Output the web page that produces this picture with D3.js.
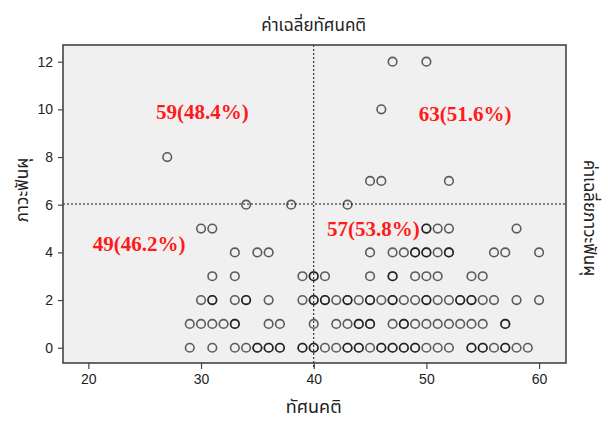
<!DOCTYPE html>
<html>
<head>
<meta charset="utf-8">
<script src="https://cdn.jsdelivr.net/npm/d3@7"></script>
<style>
  html, body { margin: 0; padding: 0; background: #fff; }
  svg { display: block; }
  .thai { font-family: "Noto Sans Thai", "Noto Sans", "DejaVu Sans", sans-serif; fill: #222; }
  .tick text { font-family: "Liberation Sans", Arial, sans-serif; font-size: 14px; fill: #222; }
  .tick line { stroke: #444; stroke-width: 1.2; }
</style>
</head>
<body>
<svg id="chart" width="608" height="421"></svg>
<script>
// Attitude score (x) and dental caries count (y) per respondent, one row per caries level
const row0 = [29,31,33,34,35,35,36,36,37,37,39,39,40,40,41,42,43,43,44,44,45,46,46,47,47,48,48,49,49,50,51,52,54,54,55,55,56,57,57,58,59];
const row1 = [29,30,31,32,33,33,36,37,40,42,43,44,44,45,45,47,48,48,49,50,51,52,53,54,55,57,57];
const row2 = [30,31,31,33,34,34,36,39,40,40,41,41,42,43,43,44,45,45,46,47,47,48,49,50,50,51,52,53,53,54,54,55,56,58,60];
const row3 = [31,33,39,40,40,41,45,47,47,49,50,51,54,55];
const row4 = [33,35,36,45,47,48,49,49,50,50,51,52,52,56,57,60];
const row5 = [30,31,50,50,51,52,58];
const row6 = [34,38,43];
const row7 = [45,46,52];
const row8 = [27];
const row10 = [46];
const row12 = [47,50];
const caries = [0,1,2,3,4,5,6,7,8,10,12];
const attitudeRows = [row0,row1,row2,row3,row4,row5,row6,row7,row8,row10,row12];

// Reference lines: sample means
const meanAttitude = 40.0;
const meanCaries = 6.03;

// Axis ticks
const xTicks = [20,30,40,50,60];
const yTicks = [0,2,4,6,8,10,12];

// Quadrant counts and where each sits in data space
const quadrantLabels = ["59(48.4%)","63(51.6%)","49(46.2%)","57(53.8%)"];
const quadrantAnchor = [[30.13,9.90],[53.43,9.80],[24.51,4.35],[45.29,4.97]];

const points = [];
attitudeRows.forEach((xs, i) => xs.forEach(x => points.push({x, y: caries[i]})));

const svg = d3.select("#chart");
const plot = {left: 63, right: 566, top: 45, bottom: 363};

const x = d3.scaleLinear().domain([17.75, 62.39]).range([plot.left, plot.right]);
const y = d3.scaleLinear().domain([-0.64, 12.70]).range([plot.bottom, plot.top]);

// Panel background
svg.append("rect")
  .attr("x", plot.left).attr("y", plot.top)
  .attr("width", plot.right - plot.left).attr("height", plot.bottom - plot.top)
  .attr("fill", "#f0f0f0");

// Axes
const xAxis = svg.append("g")
  .attr("transform", `translate(0,${plot.bottom})`)
  .call(d3.axisBottom(x).tickValues(xTicks).tickSize(6).tickPadding(5).tickFormat(d3.format("d")));
xAxis.select(".domain").remove();

const yAxis = svg.append("g")
  .attr("transform", `translate(${plot.left},0)`)
  .call(d3.axisLeft(y).tickValues(yTicks).tickSize(5).tickPadding(5).tickFormat(d3.format("d")));
yAxis.select(".domain").remove();

// Mean reference lines
svg.append("line")
  .attr("x1", x(meanAttitude)).attr("x2", x(meanAttitude))
  .attr("y1", plot.top).attr("y2", plot.bottom + 6)
  .attr("stroke", "#111").attr("stroke-width", 1).attr("stroke-dasharray", "2,2");
svg.append("line")
  .attr("x1", plot.left).attr("x2", plot.right)
  .attr("y1", y(meanCaries)).attr("y2", y(meanCaries))
  .attr("stroke", "#111").attr("stroke-width", 1).attr("stroke-dasharray", "2,2");

// Points: hollow circles, overlapping respondents darken the ring
svg.append("g").selectAll("circle")
  .data(points)
  .join("circle")
  .attr("cx", d => x(d.x))
  .attr("cy", d => y(d.y))
  .attr("r", 4.3)
  .attr("fill", "none")
  .attr("stroke", "#000")
  .attr("stroke-opacity", 0.62)
  .attr("stroke-width", 1.6);

// Quadrant counts
svg.append("g").selectAll("text")
  .data(quadrantLabels)
  .join("text")
  .attr("x", (d, i) => x(quadrantAnchor[i][0]))
  .attr("y", (d, i) => y(quadrantAnchor[i][1]))
  .attr("text-anchor", "middle")
  .attr("dominant-baseline", "central")
  .attr("font-family", "'Liberation Serif', 'Times New Roman', serif")
  .attr("font-weight", "bold")
  .attr("font-size", 21)
  .attr("fill", "#ff1a1a")
  .text(d => d);

// Panel frame
svg.append("rect")
  .attr("x", plot.left).attr("y", plot.top)
  .attr("width", plot.right - plot.left).attr("height", plot.bottom - plot.top)
  .attr("fill", "none").attr("stroke", "#444").attr("stroke-width", 1.6);

// Titles
svg.append("text").attr("class", "thai")
  .attr("x", x(meanAttitude)).attr("y", 31)
  .attr("text-anchor", "middle").attr("font-size", 17)
  .text("ค่าเฉลี่ยทัศนคติ");
svg.append("text").attr("class", "thai")
  .attr("x", x(meanAttitude)).attr("y", 413)
  .attr("text-anchor", "middle").attr("font-size", 18)
  .text("ทัศนคติ");
svg.append("text").attr("class", "thai")
  .attr("transform", "translate(28,190) rotate(-90)")
  .attr("text-anchor", "middle").attr("font-size", 17)
  .text("ภาวะฟันผุ");
svg.append("text").attr("class", "thai")
  .attr("transform", "translate(584,218) rotate(90)")
  .attr("text-anchor", "middle").attr("font-size", 17)
  .text("ค่าเฉลี่ยภาวะฟันผุ");
</script>
</body>
</html>
